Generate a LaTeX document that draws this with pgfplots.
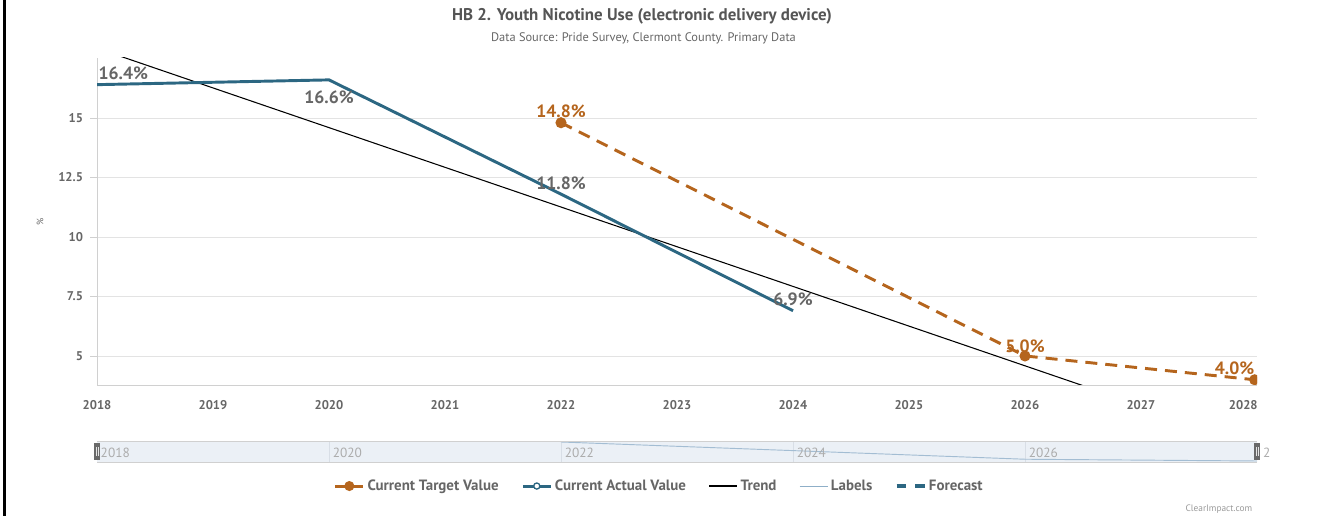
\documentclass[border=0pt]{standalone}
\usepackage{pgfplots}
\pgfplotsset{compat=1.18}
\usepackage{fontspec}
\setmainfont{PT Sans}
\definecolor{orangec}{HTML}{B5651D}
\definecolor{bluec}{HTML}{2C6782}
\definecolor{txtgray}{HTML}{666666}
\definecolor{titlegray}{HTML}{555555}
\definecolor{gridc}{HTML}{E3E3E3}
\definecolor{axisc}{HTML}{D0D0D0}
\definecolor{navbg}{HTML}{EBF0F6}
\definecolor{navgrid}{HTML}{D8DEE6}
\definecolor{navline}{HTML}{A3BDD3}
\definecolor{labline}{HTML}{8FAFC8}
\definecolor{handlec}{HTML}{6A6A6A}

\begin{document}
\begin{tikzpicture}
\useasboundingbox (0pt,0pt) rectangle (998.25pt,387pt);
\fill[black] (2.25pt,0pt) rectangle (4.75pt,387pt);
\node[font=\bfseries\fontsize{12.7}{14}\selectfont, text=titlegray] at (481.5pt,375pt) {HB 2. Youth Nicotine Use (electronic delivery device)};
\node[font=\fontsize{9.3}{11}\selectfont, text=txtgray] at (482.6pt,358.5pt) {Data Source: Pride Survey, Clermont County. Primary Data};
\node[font=\fontsize{7}{8}\selectfont, text=txtgray, rotate=90] at (30pt,220.5pt) {\%};
\node[font=\fontsize{7}{8}\selectfont, text=gray!80, anchor=east] at (942.75pt,5.25pt) {ClearImpact.com};

% main axis
\begin{axis}[
  at={(72.75pt,98.25pt)}, anchor=south west, scale only axis,
  width=870pt, height=245.25pt,
  xmin=2018, xmax=2028, ymin=3.78, ymax=17.52,
  axis x line*=bottom, axis y line*=left,
  axis line style={draw=axisc, line width=0.6pt},
  xtick={2018,2019,...,2027},
  xticklabels={2018,2019,2020,2021,2022,2023,2024,2025,2026,2027},
  extra x ticks={2028}, extra x tick labels={2028},
  extra x tick style={xticklabel style={anchor=north east, xshift=4pt}},
  x tick style={draw=none},
  ytick={5,7.5,10,12.5,15},
  yticklabels={5,7.5,10,12.5,15},
  ymajorgrids, grid style={draw=gridc, line width=0.6pt},
  y tick style={draw=axisc, line width=0.6pt},
  tick align=outside, major tick length=5pt,
  xticklabel style={font=\bfseries\fontsize{9.5}{10}\selectfont, text=txtgray, yshift=-3pt},
  yticklabel style={font=\bfseries\fontsize{9.5}{10}\selectfont, text=txtgray, xshift=-2pt},
  clip marker paths=true,
  legend columns=5,
  legend style={draw=none, fill=none, at={(0.485,-0.309)}, anchor=center,
    font=\bfseries\fontsize{11.2}{12}\selectfont, text=txtgray,
    /tikz/every even column/.append style={column sep=15pt}},
  legend cell align=left,
  legend image code/.code={\draw[mark repeat=2,mark phase=2] plot coordinates {(0cm,0cm) (0.37cm,0cm) (0.74cm,0cm)};},
]
% trend
\addplot[black, line width=0.8pt, forget plot] coordinates {(2018,17.93) (2028,1.25)};
% actual
\addplot[bluec, line width=2.2pt, forget plot] coordinates {(2018,16.4) (2020,16.6) (2022,11.8) (2024,6.9)};
% target
\addplot[orangec, line width=2.2pt, dash pattern=on 9pt off 6pt, mark=*, mark size=3pt, mark options={solid}, forget plot] coordinates {(2022,14.8) (2026,5.0) (2027.98,4.0)};

\addlegendimage{orangec, line width=2.2pt, mark=*, mark size=2.6pt}
\addlegendentry{Current Target Value}
\addlegendimage{bluec, line width=2.2pt, mark=*, mark size=2.3pt, mark options={fill=white, line width=1pt}}
\addlegendentry{Current Actual Value}
\addlegendimage{black, line width=0.9pt}
\addlegendentry{Trend}
\addlegendimage{labline, line width=0.8pt}
\addlegendentry{Labels}
\addlegendimage{bluec, line width=2.4pt, dash pattern=on 7pt off 7pt}
\addlegendentry{Forecast}

\begin{scope}[every node/.style={font=\bfseries\fontsize{13.3}{15}\selectfont, inner sep=1pt}]
\node[text=txtgray, anchor=west, yshift=8.25pt] at (axis cs:2018,16.4) {16.4\%};
\node[text=txtgray, yshift=-12.75pt] at (axis cs:2020,16.6) {16.6\%};
\node[text=txtgray, yshift=8.25pt] at (axis cs:2022,11.8) {11.8\%};
\node[text=txtgray, yshift=8.25pt] at (axis cs:2024,6.9) {6.9\%};
\node[text=orangec, yshift=8.25pt] at (axis cs:2022,14.8) {14.8\%};
\node[text=orangec, yshift=7.5pt] at (axis cs:2026,5.0) {5.0\%};
\node[text=orangec, anchor=east, yshift=8.25pt] at (axis cs:2027.99,4.0) {4.0\%};
\end{scope}
\end{axis}

% navigator
\begin{axis}[
  at={(72.75pt,40.5pt)}, anchor=south west, scale only axis,
  width=870pt, height=15.75pt,
  xmin=2018, xmax=2028, ymin=3.43, ymax=15.37,
  axis line style={draw=none},
  axis background/.style={fill=navbg},
  xtick={2020,2022,2024,2026}, xticklabels={},
  ytick=\empty,
  x tick style={draw=none},
  xmajorgrids, grid style={draw=navgrid, line width=0.6pt},
  clip=false,
]
\addplot[navline, line width=0.7pt] coordinates {(2022,14.8) (2026,5.0) (2028,4.0)};
\draw[axisc, line width=0.6pt] (rel axis cs:0,0) -- (rel axis cs:1,0);
\draw[axisc, line width=0.6pt] (rel axis cs:0,1) -- (rel axis cs:1,1);
\begin{scope}[every node/.style={font=\fontsize{10}{11}\selectfont, text=gray!65, anchor=west, inner sep=0pt}]
\node at (axis cs:2018.03,8.7) {2018};
\node at (axis cs:2020.03,8.7) {2020};
\node at (axis cs:2022.03,8.7) {2022};
\node at (axis cs:2024.03,8.7) {2024};
\node at (axis cs:2026.03,8.7) {2026};
\node at (axis cs:2028.05,8.7) {2};
\end{scope}
\fill[handlec] ([xshift=-2.6pt]rel axis cs:0,0.1) rectangle ([xshift=2.6pt]rel axis cs:0,0.9);
\draw[white!80!gray, line width=0.4pt] ([xshift=-0.7pt]rel axis cs:0,0.3) -- ([xshift=-0.7pt]rel axis cs:0,0.7);
\draw[white!80!gray, line width=0.4pt] ([xshift=0.7pt]rel axis cs:0,0.3) -- ([xshift=0.7pt]rel axis cs:0,0.7);
\fill[handlec] ([xshift=-2.6pt]rel axis cs:1,0.1) rectangle ([xshift=2.6pt]rel axis cs:1,0.9);
\draw[white!80!gray, line width=0.4pt] ([xshift=-0.7pt]rel axis cs:1,0.3) -- ([xshift=-0.7pt]rel axis cs:1,0.7);
\draw[white!80!gray, line width=0.4pt] ([xshift=0.7pt]rel axis cs:1,0.3) -- ([xshift=0.7pt]rel axis cs:1,0.7);
\end{axis}
\end{tikzpicture}
\end{document}
